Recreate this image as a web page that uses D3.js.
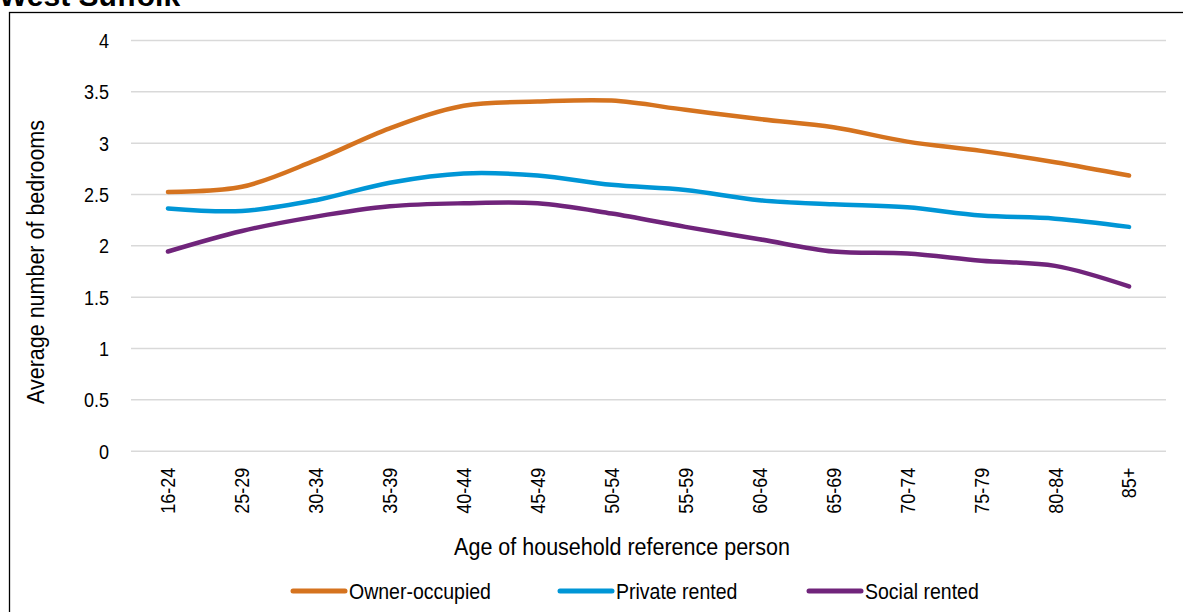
<!DOCTYPE html>
<html>
<head>
<meta charset="utf-8">
<script src="https://cdn.jsdelivr.net/npm/d3@7"></script>
<style>
  html, body { margin: 0; padding: 0; background: #fff; overflow: hidden; }
  svg { display: block; font-family: "Liberation Sans", Arial, sans-serif; }
</style>
</head>
<body>
<svg id="chart" width="1183" height="612"></svg>
<script>
const categories = ["16-24","25-29","30-34","35-39","40-44","45-49","50-54","55-59","60-64","65-69","70-74","75-79","80-84","85+"];
const ownerOccupied = [2.52, 2.57, 2.83, 3.14, 3.36, 3.40, 3.41, 3.32, 3.23, 3.15, 3.01, 2.92, 2.81, 2.68];
const privateRented = [2.36, 2.335, 2.44, 2.61, 2.70, 2.68, 2.59, 2.54, 2.44, 2.40, 2.37, 2.29, 2.26, 2.18];
const socialRented  = [1.94, 2.14, 2.28, 2.38, 2.41, 2.41, 2.31, 2.18, 2.06, 1.94, 1.92, 1.85, 1.80, 1.60];
const seriesNames = ["Owner-occupied", "Private rented", "Social rented"];
const seriesColors = ["#D5731F", "#0096D6", "#70247B"];
const yTickValues = [0, 0.5, 1, 1.5, 2, 2.5, 3, 3.5, 4];
const yTickLabels = ["0", "0.5", "1", "1.5", "2", "2.5", "3", "3.5", "4"];
const title = "West Suffolk";
const xTitle = "Age of household reference person";
const yTitle = "Average number of bedrooms";

const SX = 0.87; // narrow text look of the reference

const svg = d3.select("#chart");

// outer frame
svg.append("rect").attr("x", 9.5).attr("y", 12.5).attr("width", 1200).attr("height", 650)
  .attr("fill", "none").attr("stroke", "#000").attr("stroke-width", 1.3);

// title (partly clipped, as in the reference)
svg.append("text").attr("x", -1).attr("y", 6).attr("font-size", 30).attr("font-weight", "bold")
  .attr("fill", "#000").text(title);

const plot = { left: 131, right: 1166, top: 40, bottom: 450.7 };

const x = d3.scaleBand().domain(categories).range([plot.left, plot.right]).padding(0);
const cx = c => x(c) + x.bandwidth() / 2;
const y = d3.scaleLinear().domain([0, 4]).range([plot.bottom, plot.top]);

// y axis with gridlines
const yAxis = d3.axisLeft(y).tickValues(yTickValues)
  .tickFormat((d, i) => yTickLabels[i])
  .tickSize(-(plot.right - plot.left)).tickPadding(22);
const gy = svg.append("g").attr("transform", `translate(${plot.left},0)`).call(yAxis);
gy.select(".domain").remove();
gy.selectAll(".tick line").attr("stroke", "#d9d9d9").attr("stroke-width", 1.5);
gy.selectAll(".tick text").attr("font-size", 18 / SX).attr("fill", "#000")
  .attr("font-family", "Liberation Sans, Arial, sans-serif")
  .attr("x", 0).attr("dy", "0.36em")
  .attr("transform", `translate(-22,0) scale(${SX},1)`);

// x axis labels (rotated)
const xAxis = d3.axisBottom(x).tickSize(0).tickPadding(0);
const gx = svg.append("g").attr("transform", `translate(0,${plot.bottom})`).call(xAxis);
gx.select(".domain").remove();
gx.selectAll(".tick text")
  .attr("font-size", 18 / SX).attr("fill", "#000")
  .attr("font-family", "Liberation Sans, Arial, sans-serif")
  .attr("text-anchor", "end")
  .attr("x", 0).attr("y", 0).attr("dy", "0.36em")
  .attr("transform", `translate(0,17) rotate(-90) scale(${SX},1)`);

// axis titles
svg.append("text").attr("transform", `translate(622,555) scale(${SX},1)`).attr("text-anchor", "middle")
  .attr("font-size", 21.5 / SX).attr("fill", "#000").text(xTitle);
svg.append("text").attr("transform", `translate(44,262) rotate(-90) scale(${SX},1)`).attr("text-anchor", "middle")
  .attr("font-size", 21.5 / SX).attr("fill", "#000").text(yTitle);

// lines
const seriesData = [ownerOccupied, privateRented, socialRented];
const line = d3.line().x((d, i) => cx(categories[i])).y(d => y(d)).curve(d3.curveCatmullRom.alpha(0.5));
seriesData.forEach((vals, k) => {
  svg.append("path").datum(vals).attr("d", line)
    .attr("fill", "none").attr("stroke", seriesColors[k]).attr("stroke-width", 4.5)
    .attr("stroke-linecap", "round").attr("stroke-linejoin", "round");
});

// legend
const legendX = [293, 560, 809];
seriesNames.forEach((name, k) => {
  const g = svg.append("g").attr("transform", `translate(${legendX[k]},591)`);
  g.append("line").attr("x1", 0).attr("x2", 52).attr("y1", 0).attr("y2", 0)
    .attr("stroke", seriesColors[k]).attr("stroke-width", 5).attr("stroke-linecap", "round");
  g.append("text").attr("transform", `translate(56,0) scale(${SX},1)`).attr("dy", "0.36em")
    .attr("font-size", 19.5 / SX).attr("fill", "#000").text(name);
});
</script>
</body>
</html>
